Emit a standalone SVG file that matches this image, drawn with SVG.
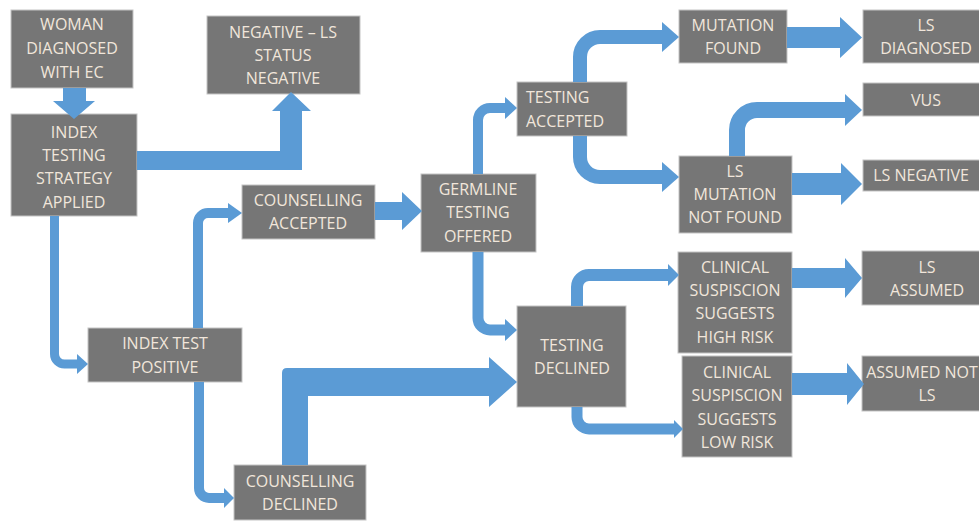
<svg xmlns="http://www.w3.org/2000/svg" width="979" height="521" viewBox="0 0 979 521">
<style>
.box{fill:#767676;stroke:#C4C4C4;stroke-width:1}
.t{font-family:"Open Sans","Liberation Sans",sans-serif;font-size:16px;fill:#F1E6DB;text-anchor:middle}
.tl{text-anchor:start}
.ln{fill:none;stroke:#5B9BD5;stroke-linejoin:round}
.hd{fill:#5B9BD5}
</style>
<rect width="979" height="521" fill="#FFFFFF"/>
<g id="n-woman"><rect class="box" x="11" y="10" width="122" height="78"/>
<text class="t" x="72" y="30">WOMAN</text><text class="t" x="72" y="54">DIAGNOSED</text><text class="t" x="72" y="78">WITH EC</text></g>
<g id="n-index-strategy"><rect class="box" x="11" y="114" width="126" height="102"/>
<text class="t" x="74" y="138">INDEX</text><text class="t" x="74" y="161">TESTING</text><text class="t" x="74" y="184">STRATEGY</text><text class="t" x="74" y="208">APPLIED</text></g>
<g id="n-negative"><rect class="box" x="207" y="16" width="153" height="78"/>
<text class="t" x="283" y="38">NEGATIVE – LS</text><text class="t" x="283" y="61">STATUS</text><text class="t" x="283" y="84">NEGATIVE</text></g>
<g id="n-couns-acc"><rect class="box" x="242" y="185" width="133" height="54"/>
<text class="t" x="308" y="206">COUNSELLING</text><text class="t" x="308" y="229">ACCEPTED</text></g>
<g id="n-index-pos"><rect class="box" x="88" y="328" width="154" height="54"/>
<text class="t" x="165" y="349">INDEX TEST</text><text class="t" x="165" y="373">POSITIVE</text></g>
<g id="n-couns-dec"><rect class="box" x="234" y="465" width="132" height="55"/>
<text class="t" x="300" y="487">COUNSELLING</text><text class="t" x="300" y="510">DECLINED</text></g>
<g id="n-germline"><rect class="box" x="421" y="174" width="115" height="78"/>
<text class="t" x="478" y="195">GERMLINE</text><text class="t" x="478" y="218">TESTING</text><text class="t" x="478" y="242">OFFERED</text></g>
<g id="n-test-acc"><rect class="box" x="517" y="82" width="110" height="54"/>
<text class="t tl" x="526" y="103">TESTING</text><text class="t tl" x="526" y="127">ACCEPTED</text></g>
<g id="n-mut-found"><rect class="box" x="679" y="10" width="108" height="53"/>
<text class="t" x="733" y="31">MUTATION</text><text class="t" x="733" y="54">FOUND</text></g>
<g id="n-ls-diag"><rect class="box" x="863" y="10" width="128" height="53"/>
<text class="t" x="926" y="31">LS</text><text class="t" x="926" y="54">DIAGNOSED</text></g>
<g id="n-vus"><rect class="box" x="863" y="83" width="128" height="33"/>
<text class="t" x="926" y="106">VUS</text></g>
<g id="n-ls-notfound"><rect class="box" x="679" y="156" width="113" height="77"/>
<text class="t" x="735" y="177">LS</text><text class="t" x="735" y="200">MUTATION</text><text class="t" x="735" y="223">NOT FOUND</text></g>
<g id="n-ls-neg"><rect class="box" x="863" y="160" width="128" height="31"/>
<text class="t" x="921" y="181">LS NEGATIVE</text></g>
<g id="n-test-dec"><rect class="box" x="517" y="306" width="109" height="101"/>
<text class="t" x="572" y="351">TESTING</text><text class="t" x="572" y="374">DECLINED</text></g>
<g id="n-high"><rect class="box" x="678" y="252" width="114" height="101"/>
<text class="t" x="735" y="273">CLINICAL</text><text class="t" x="735" y="296">SUSPISCION</text><text class="t" x="735" y="319">SUGGESTS</text><text class="t" x="735" y="343">HIGH RISK</text></g>
<g id="n-low"><rect class="box" x="682" y="356" width="110" height="101"/>
<text class="t" x="737" y="378">CLINICAL</text><text class="t" x="737" y="401">SUSPISCION</text><text class="t" x="737" y="425">SUGGESTS</text><text class="t" x="737" y="448">LOW RISK</text></g>
<g id="n-ls-assumed"><rect class="box" x="862" y="251" width="129" height="54"/>
<text class="t" x="927" y="273">LS</text><text class="t" x="927" y="296">ASSUMED</text></g>
<g id="n-assumed-not"><rect class="box" x="862" y="356" width="129" height="55"/>
<text class="t" x="922" y="378" font-size="15">ASSUMED NOT</text><text class="t" x="927" y="401">LS</text></g>
<g id="connectors">
<polygon class="hd" points="63,88 86,88 86,101 95,101 74,119 53,101 63,101"/>
<polygon class="hd" points="137,151 280,151 280,111 272,111 291,92 311,111 302,111 302,170 137,170"/>
<path class="ln" stroke-width="9" d="M54.5,216 V354 A10,10 0 0 0 64.5,364 H78"/>
<polygon class="hd" points="77,354 88,364 77,374"/>
<path class="ln" stroke-width="10" d="M198,328 V223 A10,10 0 0 1 208,213 H229"/>
<polygon class="hd" points="228,203 242,213 228,223"/>
<path class="ln" stroke-width="10" d="M199,382 V488 A10,10 0 0 0 209,498 H225"/>
<polygon class="hd" points="224,488 234,498 224,508"/>
<path class="hd" d="M282,465 V373 Q282,368 287,368 H489 V357 L517,382 L489,407 V396 H308 V465 Z"/>
<polygon class="hd" points="375,202 402,202 402,192 422,211 402,230 402,220 375,220"/>
<path class="ln" stroke-width="10" d="M478,174 V120 A12,12 0 0 1 490,108 H506"/>
<polygon class="hd" points="505,97 517,108 505,119"/>
<path class="ln" stroke-width="11" d="M478,252 V318 A12,12 0 0 0 490,330 H506"/>
<polygon class="hd" points="505,319 517,330 505,341"/>
<path class="ln" stroke-width="14" d="M580,82 V57 A20,20 0 0 1 600,37 H663"/>
<polygon class="hd" points="662,22 679,37 662,52"/>
<path class="ln" stroke-width="14" d="M580,136 V157 A20,20 0 0 0 600,177 H663"/>
<polygon class="hd" points="662,162 679,177 662,192"/>
<polygon class="hd" points="787,27 840,27 840,17 862,37.5 840,58 840,48 787,48"/>
<path class="ln" stroke-width="16" d="M737,156 V130 A20,20 0 0 1 757,110 H846"/>
<polygon class="hd" points="845,94 862,110 845,126"/>
<polygon class="hd" points="792,173 841,173 841,163 862,184 841,205 841,195 792,195"/>
<path class="ln" stroke-width="12" d="M577,306 V287 A12,12 0 0 1 589,275 H669"/>
<polygon class="hd" points="668,264 679,275 668,286"/>
<path class="ln" stroke-width="11" d="M577,407 V417 A12,12 0 0 0 589,429 H675"/>
<polygon class="hd" points="674,420 683,429 674,438"/>
<polygon class="hd" points="792,268 845,268 845,258 862,278 845,298 845,288 792,288"/>
<polygon class="hd" points="792,373 847,373 847,363 864,384 847,405 847,395 792,395"/>
</g>
</svg>
